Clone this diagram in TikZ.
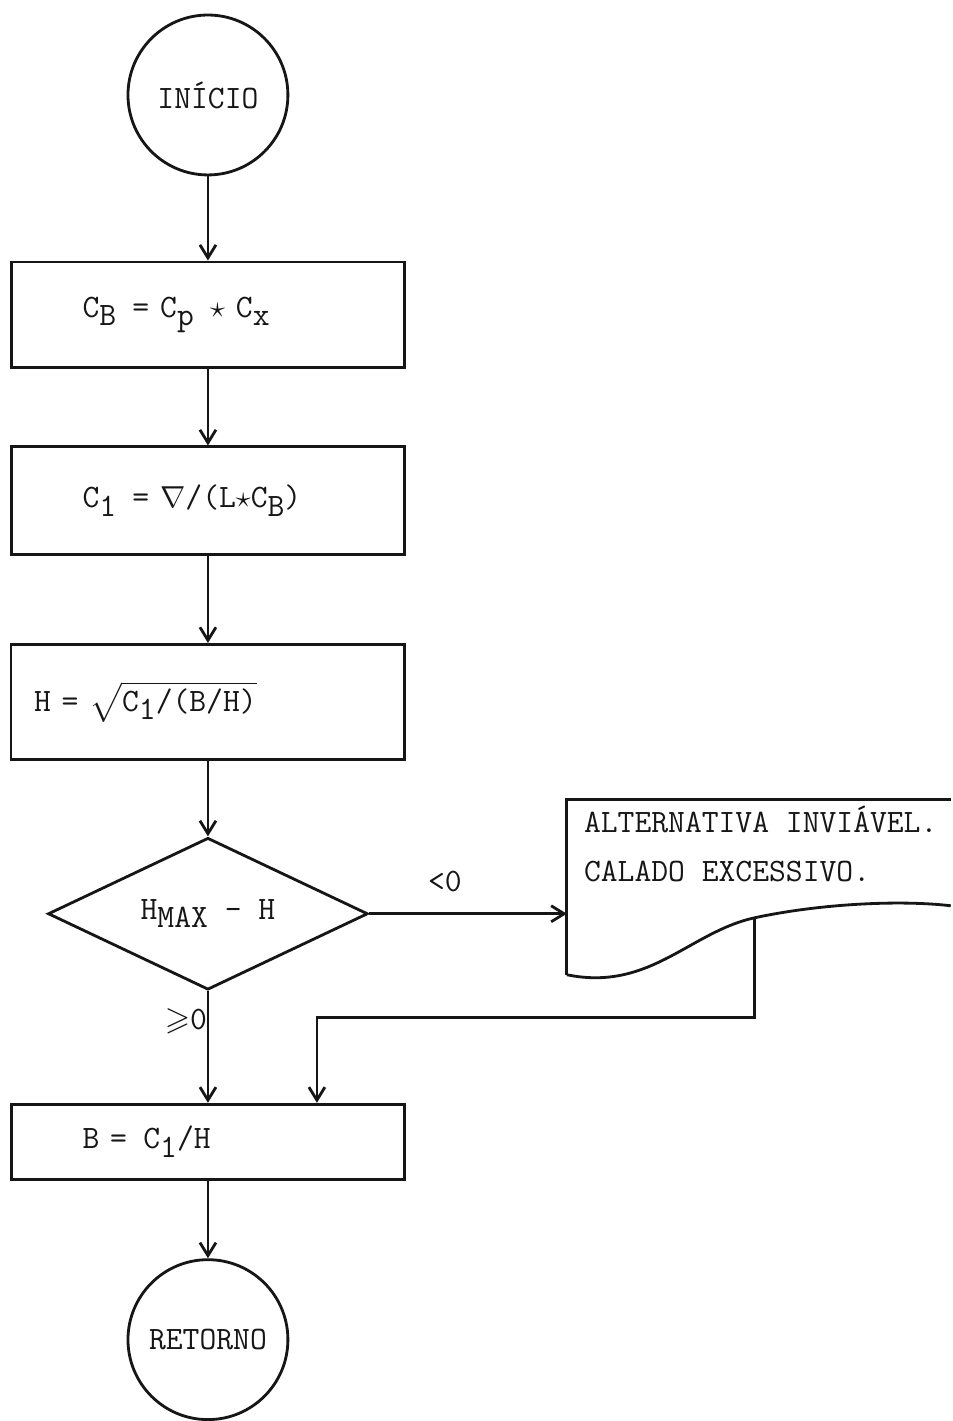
\documentclass[tikz,border=0pt]{standalone}
\usepackage{amssymb}
\usepackage{xcolor}
\usetikzlibrary{shapes.geometric,arrows.meta}
\definecolor{ink}{RGB}{22,22,22}
\newcommand{\lowr}[1]{\raisebox{-0.6ex}{#1}}

\begin{document}
\begin{tikzpicture}[x=0.02cm, y=-0.02cm,
    every node/.style={font=\ttfamily\fontsize{18.6}{22}\selectfont, text=ink},
    line/.style={draw=ink, line width=1.6pt},
    flow/.style={line, -{Straight Barb[length=2.6mm,width=3.2mm]}},
    term/.style={circle, line, minimum size=3.2cm, inner sep=0pt},
    procbox/.style={line, minimum height=#1, text width=5.02cm,
                    inner xsep=1.42cm, align=left},
    test/.style={diamond, line, minimum width=6.4cm, minimum height=3.04cm,
                 inner sep=0pt, aspect=2.1}]
  \fill[white] (0,0) rectangle (951,1421);

  % main column
  \node[term] (start) at (208,95) {INÍCIO};
  \node[procbox=2.12cm] (cb) at (208,315)
    {C\lowr{B}\, = C\lowr{p}\, $\star$ C\lowr{x}};
  \node[procbox=2.16cm] (cone) at (208,501)
    {C\lowr{1}\, = $\nabla$/(L$\star$C\lowr{B})};
  \node[procbox=2.3cm, text width=6.96cm, inner xsep=0.46cm] (h) at (208,702)
    {H = $\sqrt{\hbox{C\lowr{1}/(B/H)}}$};
  \node[test] (hmax) at (208,914) {H\lowr{MAX} - H};
  \node[procbox=1.5cm] (b) at (208,1142) {B =\, C\lowr{1}/H};
  \node[term] (ret) at (208,1340) {RETORNO};

  \draw[flow] (start) -- (cb);
  \draw[flow] (cb) -- (cone);
  \draw[flow] (cone) -- (h);
  \draw[flow] (h) -- (hmax);
  \draw[flow] (hmax) -- (b);
  \draw[flow] (b) -- (ret);
  \node (nonneg) at (186,1022) {$\geqslant$0};

  % message (document shape)
  \draw[line] (567,975) -- (567,800) -- (951,800);
  \draw[line] (567,975) .. controls (650,992) and (690,932) .. (755,918)
    .. controls (820,904) and (900,900) .. (951,906);
  \node[anchor=north west, align=left] (msg) at (578,800)
    {ALTERNATIVA INVIÁVEL.\\[6pt]CALADO EXCESSIVO.};
  \coordinate (msgin) at (567,914);
  \coordinate (wave) at (755,918);
  \coordinate (join) at (317,1018);
  \draw[flow] (hmax.east) -- (msgin);
  \node (neg) at (445,882) {<0};
  \draw[flow] (wave) |- (join) -- (join |- b.north);
\end{tikzpicture}
\end{document}
